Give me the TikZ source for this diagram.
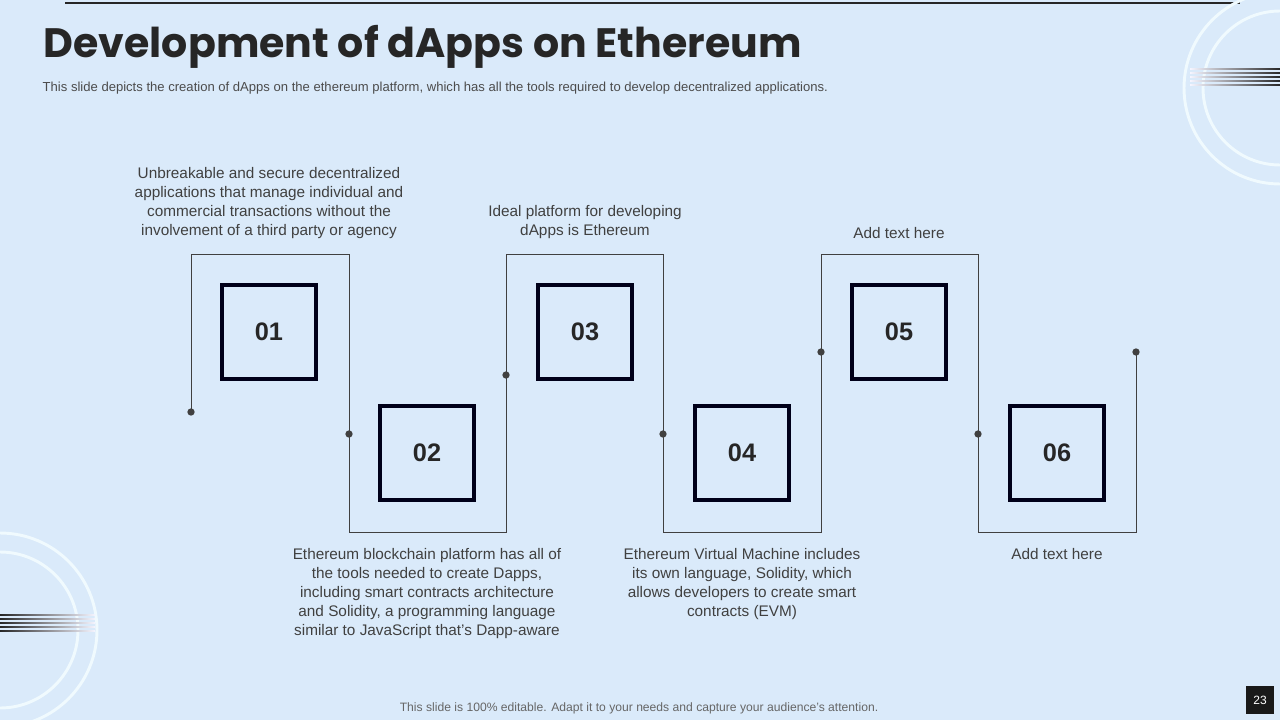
\documentclass[tikz,border=0pt]{standalone}
\usepackage{fontspec}
\setmainfont{Liberation Sans}
\newfontfamily\titlefont{Poppins}
\begin{document}
\begin{tikzpicture}[x=0.75pt,y=-0.75pt,
  path/.style={draw=black!75,line width=0.6pt},
  dot/.style={circle,fill=black!75,inner sep=0pt,minimum size=5.5pt},
  box/.style={draw=black!90!blue,line width=3pt,minimum size=70pt,inner sep=0pt,font=\fontsize{19}{22}\selectfont\bfseries,text=black!85},
  desc/.style={align=center,font=\fontsize{11.5}{14.2}\selectfont,text=black!75},
  ring/.style={draw=white!70!cyan!20,line width=2.2pt}]
\fill[color={rgb,255:red,218;green,234;blue,250}] (0,0) rectangle (1280,720);
\useasboundingbox (0,0) rectangle (1280,720);
\draw[black!85,line width=0.8pt] (65,3) -- (1240,3);
% decorations
\begin{scope}
\clip (0,0) rectangle (1280,720);
\draw[ring] (1280,88) circle[radius=96];
\draw[ring] (1280,88) circle[radius=77];
\draw[ring] (0,630) circle[radius=97];
\draw[ring] (0,630) circle[radius=78];
\foreach \y in {69,73,77,81,85}{
  \shade[left color=white!60!blue!10,right color=black!85] (1190,\y-0.6) rectangle (1280,\y+0.6);
  \shade[right color=white!60!blue!10,left color=black!85] (0,\y+546-0.6) rectangle (95,\y+546+0.6);}
\end{scope}
\node[anchor=west,font=\titlefont\fontsize{30.8}{36}\selectfont\bfseries,text=black!85] (title) at (39,47) {Development of dApps on Ethereum};
\node[anchor=west,font=\fontsize{9.8}{11}\selectfont,text=black!70] (sub) at (38,88) {This slide depicts the creation of dApps on the ethereum platform, which has all the tools required to develop decentralized applications.};
% path
\coordinate (p0) at (191,412);
\coordinate (p7) at (1136,352);
\draw[path] (p0) -- (191,254) -- (349,254) -- (349,532) -- (506,532) -- (506,254) -- (663,254) -- (663,532) -- (821,532) -- (821,254) -- (978,254) -- (978,532) -- (1136,532) -- (p7);
\node[dot] (d0) at (p0) {};
\node[dot] (d1) at (349,434) {};
\node[dot] (d2) at (506,375) {};
\node[dot] (d3) at (663,434) {};
\node[dot] (d4) at (821,352) {};
\node[dot] (d5) at (978,434) {};
\node[dot] (d6) at (p7) {};
\node[box] (b1) at (269,332) {01};
\node[box] (b2) at (427,453) {02};
\node[box] (b3) at (585,332) {03};
\node[box] (b4) at (742,453) {04};
\node[box] (b5) at (899,332) {05};
\node[box] (b6) at (1057,453) {06};
\node[desc,anchor=south] (t1) at (269,243) {Unbreakable and secure decentralized\\applications that manage individual and\\commercial transactions without the\\involvement of a third party or agency};
\node[desc,anchor=south] (t3) at (585,243) {Ideal platform for developing\\dApps is Ethereum};
\node[desc,anchor=south] (t5) at (899,243) {Add text here};
\node[desc,anchor=north] (t2) at (427,544) {Ethereum blockchain platform has all of\\the tools needed to create Dapps,\\including smart contracts architecture\\and Solidity, a programming language\\similar to JavaScript that's Dapp-aware};
\node[desc,anchor=north] (t4) at (742,544) {Ethereum Virtual Machine includes\\its own language, Solidity, which\\allows developers to create smart\\contracts (EVM)};
\node[desc,anchor=north] (t6) at (1057,544) {Add text here};
\node[font=\fontsize{9.1}{10}\selectfont,text=black!60] (foot) at (639,708) {This slide is 100\% editable. Adapt it to your needs and capture your audience's attention.};
\node[fill=black!90,text=white,minimum size=21pt,inner sep=0pt,font=\fontsize{9}{10}\selectfont] (pg) at (1260,700) {23};
\end{tikzpicture}
\end{document}
